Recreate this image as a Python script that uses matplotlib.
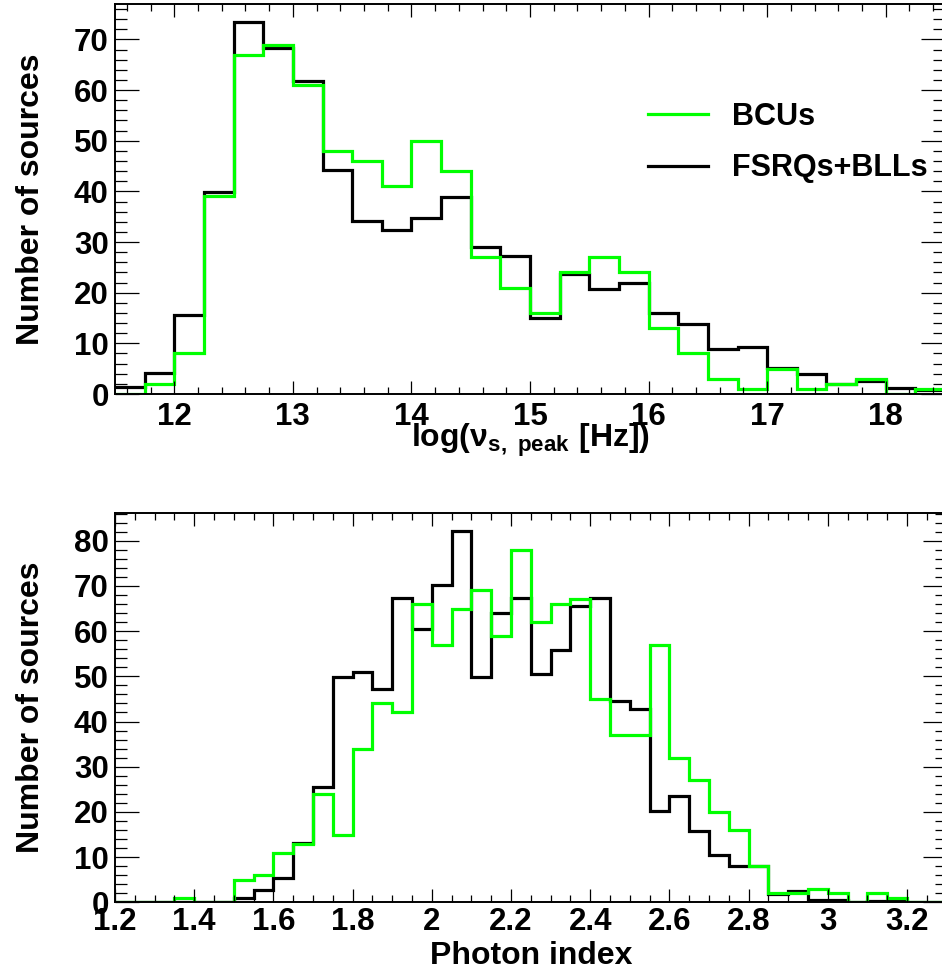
import numpy as np
import matplotlib
matplotlib.use("Agg")
import matplotlib.pyplot as plt
from matplotlib.lines import Line2D
from matplotlib.ticker import MultipleLocator, FuncFormatter

plt.rcParams['font.family'] = ['Liberation Sans', 'DejaVu Sans']
plt.rcParams['font.weight'] = 'bold'
plt.rcParams['mathtext.fontset'] = 'custom'
plt.rcParams['mathtext.rm'] = 'Liberation Sans:bold'
plt.rcParams['mathtext.it'] = 'Liberation Sans:bold'
plt.rcParams['mathtext.bf'] = 'Liberation Sans:bold'
plt.rcParams['mathtext.sf'] = 'Liberation Sans'

# ---------------- data ----------------
# top panel: log(nu_peak), bins of 0.25 from 11.5 to 18.5
nu_lo, nu_hi, nu_w = 11.5, 18.5, 0.25
nu_fsrq_bll = [1.3, 4.1, 15.5, 39.9, 73.4, 68.4, 61.8, 44.3, 34.1, 32.4, 34.7, 38.8, 29.1, 27.2,
               15.1, 23.7, 20.8, 21.9, 16.0, 13.75, 8.9, 9.3, 5.2, 3.9, 2.0, 2.5, 1.25, 0.85]
nu_bcu = [0, 2, 8, 39, 67, 69, 61, 48, 46, 41, 50, 44, 27, 21,
          16, 24, 27, 24, 13, 8, 3, 1, 5, 1, 2, 3, 0, 1]

# bottom panel: photon index, bins of 0.05 from 1.2 to 3.3
pi_lo, pi_hi, pi_w = 1.2, 3.3, 0.05
pi_fsrq_bll = [0, 0, 0, 0, 0, 0,
               0.9, 2.8, 5.3, 13.05, 25.5, 49.9, 50.9, 47.3, 67.4, 60.4,
               70.1, 82.2, 49.9, 63.9, 67.3, 50.6, 55.9, 65.6, 67.3, 44.6,
               42.8, 20.1, 23.6, 15.7, 10.5, 8.0, 8.0, 1.8, 2.6, 0.6,
               0.4, 0, 0.3, 0.3, 0, 0]
pi_bcu = [0, 0, 0, 1, 0, 0,
          5, 6, 11, 13, 24, 15, 34, 44, 42, 66,
          57, 65, 69, 59, 78, 62, 66, 67, 45, 37,
          37, 57, 32, 27, 20, 16, 8, 2, 2, 3,
          2, 0, 2, 1, 0, 0]

labels = ["BCUs", "FSRQs+BLLs"]
green = "#00ff00"
black = "#000000"

W, H = 942, 976
fig = plt.figure(figsize=(W / 100, H / 100), dpi=100)

def frac(l, r, t, b):
    return [l / W, 1 - b / H, (r - l) / W, (b - t) / H]

ax1 = fig.add_axes(frac(115, 945, 4, 394))
ax2 = fig.add_axes(frac(115, 946.6, 512.7, 902.3))

fs_tick = 22.5
fs_lab = 23
fs_leg = 22
lw = 2.3

def style(ax, xmaj, xmin, ymaj, ymin, xpad):
    ax.xaxis.set_major_locator(MultipleLocator(xmaj))
    ax.xaxis.set_minor_locator(MultipleLocator(xmin))
    ax.yaxis.set_major_locator(MultipleLocator(ymaj))
    ax.yaxis.set_minor_locator(MultipleLocator(ymin))
    ax.xaxis.set_major_formatter(FuncFormatter(lambda v, p: "%g" % round(v, 6)))
    ax.tick_params(axis='both', which='both', direction='in', top=True, right=True,
                   labelsize=fs_tick, width=0.9, color='black')
    ax.tick_params(axis='x', which='major', length=9.5, pad=xpad)
    ax.tick_params(axis='x', which='minor', length=5)
    ax.tick_params(axis='y', which='major', length=17.5, pad=4.5)
    ax.tick_params(axis='y', which='minor', length=8.7)
    for lab in ax.get_xticklabels() + ax.get_yticklabels():
        lab.set_fontweight('bold')
    for s in ax.spines.values():
        s.set_linewidth(1.4)
    ax.set_ylabel("Number of sources", fontsize=fs_lab, fontweight='bold')
    ax.yaxis.set_label_coords(-0.083, 0.5)

# top panel
nu_edges = np.linspace(nu_lo, nu_hi, len(nu_bcu) + 1)
ax1.stairs(nu_fsrq_bll, nu_edges, color=black, lw=lw, baseline=None)
ax1.stairs(nu_bcu, nu_edges, color=green, lw=lw, baseline=None)
ax1.set_xlim(nu_lo, nu_hi)
ax1.set_ylim(0, 77)
style(ax1, 1, 0.2, 10, 2, 6.0)
ax1.set_xlabel(r'$\mathrm{log(}\mathsf{\nu}_{\mathrm{s,\ peak}}\ \mathrm{[Hz])}$', fontsize=fs_lab)
ax1.xaxis.set_label_coords(0.5, -0.071)

handles = [Line2D([], [], color=green, lw=lw), Line2D([], [], color=black, lw=lw)]
leg = ax1.legend(handles, labels, loc='upper left', bbox_to_anchor=(648 / W, 1 - 102 / H),
                 bbox_transform=fig.transFigure, frameon=False, fontsize=fs_leg,
                 handlelength=1.95, handletextpad=0.8, labelspacing=0.7,
                 borderpad=0, borderaxespad=0)
for t in leg.get_texts():
    t.set_fontweight('bold')

# bottom panel
pi_edges = np.linspace(pi_lo, pi_hi, len(pi_bcu) + 1)
ax2.stairs(pi_fsrq_bll, pi_edges, color=black, lw=lw, baseline=None)
ax2.stairs(pi_bcu, pi_edges, color=green, lw=lw, baseline=None)
ax2.set_xlim(pi_lo, pi_hi)
ax2.set_ylim(0, 86.2)
style(ax2, 0.2, 0.05, 10, 2, 3.5)
ax2.set_xlabel("Photon index", fontsize=fs_lab, fontweight='bold')
ax2.xaxis.set_label_coords(0.5, -0.1)

fig.savefig("out.png", dpi=100)
